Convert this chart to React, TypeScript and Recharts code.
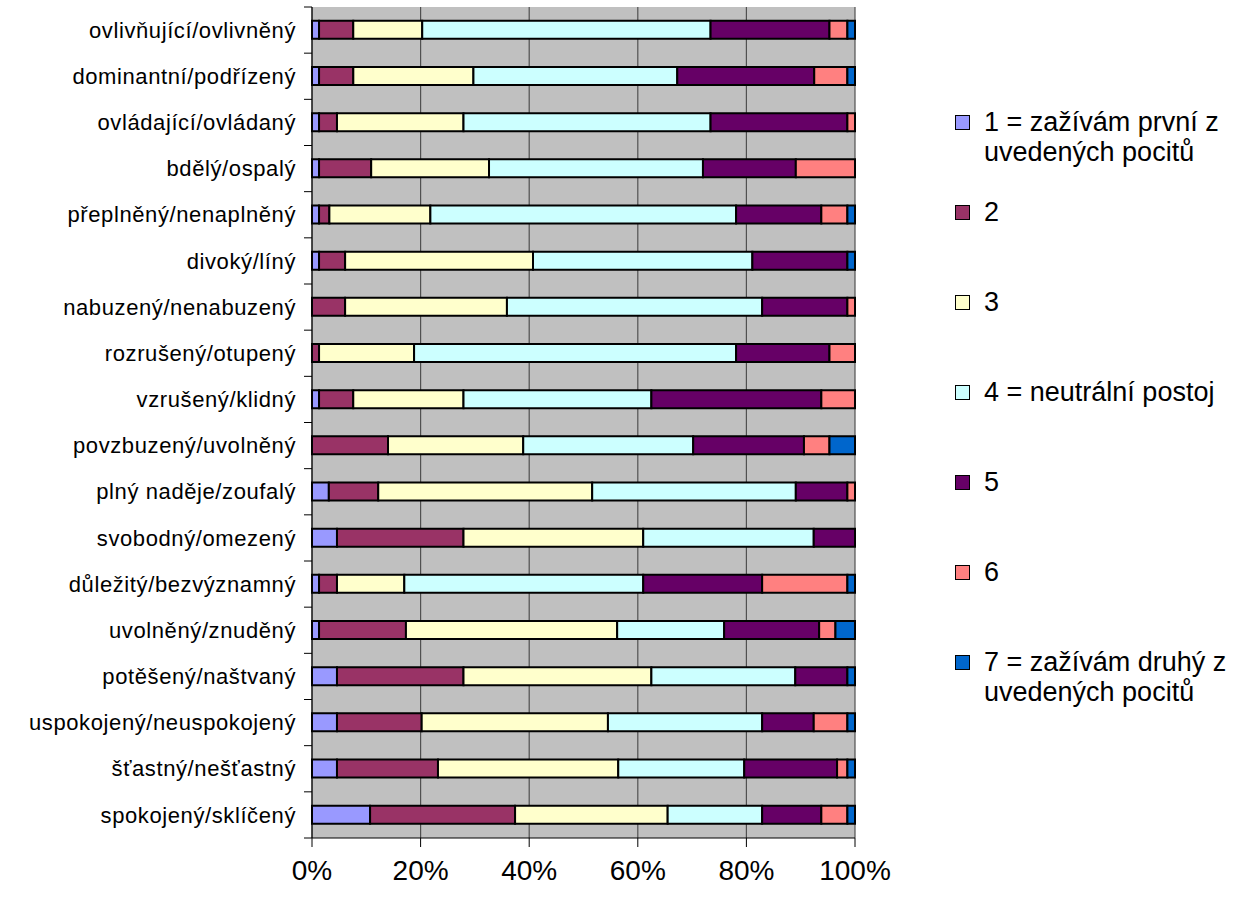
import React from 'react';
import { BarChart, Bar, XAxis, YAxis, CartesianGrid } from 'recharts';

const categories = [
  'ovlivňující/ovlivněný',
  'dominantní/podřízený',
  'ovládající/ovládaný',
  'bdělý/ospalý',
  'přeplněný/nenaplněný',
  'divoký/líný',
  'nabuzený/nenabuzený',
  'rozrušený/otupený',
  'vzrušený/klidný',
  'povzbuzený/uvolněný',
  'plný naděje/zoufalý',
  'svobodný/omezený',
  'důležitý/bezvýznamný',
  'uvolněný/znuděný',
  'potěšený/naštvaný',
  'uspokojený/neuspokojený',
  'šťastný/nešťastný',
  'spokojený/sklíčený',
];

const s1 = [1.3, 1.3, 1.3, 1.3, 1.3, 1.3, 0, 0, 1.3, 0, 3.1, 4.6, 1.3, 1.3, 4.6, 4.6, 4.6, 10.7];
const s2 = [6.3, 6.3, 3.3, 9.6, 1.9, 4.8, 6.1, 1.3, 6.3, 14.0, 9.1, 23.3, 3.3, 16.0, 23.3, 15.6, 18.6, 26.7];
const s3 = [12.7, 22.1, 23.3, 21.7, 18.6, 34.6, 29.8, 17.5, 20.3, 24.9, 39.4, 33.1, 12.4, 38.9, 34.6, 34.3, 33.2, 28.1];
const s4 = [53.1, 37.5, 45.5, 39.4, 56.3, 40.4, 47.0, 59.3, 34.6, 31.3, 37.5, 31.4, 44.0, 19.7, 26.5, 28.4, 23.2, 17.4];
const s5 = [21.9, 25.2, 25.2, 17.1, 15.7, 17.5, 15.7, 17.2, 31.3, 20.4, 9.5, 7.6, 21.9, 17.5, 9.6, 9.5, 17.1, 10.9];
const s6 = [3.3, 6.1, 1.4, 10.9, 4.8, 0, 1.4, 4.7, 6.2, 4.7, 1.4, 0, 15.7, 3.0, 0, 6.2, 1.9, 4.8];
const s7 = [1.4, 1.4, 0, 0, 1.4, 1.4, 0, 0, 0, 4.7, 0, 0, 1.4, 3.6, 1.4, 1.4, 1.4, 1.4];

const seriesValues = [s1, s2, s3, s4, s5, s6, s7];
const seriesKeys = ['v1', 'v2', 'v3', 'v4', 'v5', 'v6', 'v7'];
const seriesColors = ['#9999FF', '#993366', '#FFFFCC', '#CCFFFF', '#660066', '#FF8080', '#0066CC'];
const seriesLabels = [
  ['1 = zažívám první z', 'uvedených pocitů'],
  ['2'],
  ['3'],
  ['4 = neutrální postoj'],
  ['5'],
  ['6'],
  ['7 = zažívám druhý z', 'uvedených pocitů'],
];
const xTicks = [0, 0.2, 0.4, 0.6, 0.8, 1];

const data = categories.map((name, i) => {
  const row: Record<string, any> = { name };
  seriesKeys.forEach((k, j) => {
    row[k] = seriesValues[j][i];
  });
  return row;
});

const FONT = '"Liberation Sans", Arial, sans-serif';
const W = 1252;
const H = 897;
const PLOT_LEFT = 312;
const PLOT_RIGHT = 855;
const PLOT_TOP = 7;
const PLOT_BOTTOM = 838;
const HALF_BAND = (PLOT_BOTTOM - PLOT_TOP) / categories.length / 2;

const YTick = (props: any) => {
  const { x, y, payload, index } = props;
  return (
    <g>
      <line x1={x - 8} x2={x} y1={y - HALF_BAND} y2={y - HALF_BAND} stroke="#000" strokeWidth={1} />
      {index === categories.length - 1 && (
        <line x1={x - 8} x2={x} y1={y + HALF_BAND} y2={y + HALF_BAND} stroke="#000" strokeWidth={1} />
      )}
      <text
        x={x - 16}
        y={y}
        dy="0.35em"
        textAnchor="end"
        fontSize={22}
        letterSpacing={0.6}
        fontFamily={FONT}
        fill="#000"
      >
        {payload.value}
      </text>
    </g>
  );
};

export default function App() {
  return (
    <div style={{ position: 'absolute', left: 0, top: 0, width: W, height: H, background: '#fff' }}>
      <BarChart
        width={W}
        height={H}
        data={data}
        layout="vertical"
        stackOffset="expand"
        barCategoryGap="30%"
        margin={{ top: PLOT_TOP, right: W - PLOT_RIGHT, bottom: 0, left: 0 }}
      >
        <CartesianGrid
          horizontal={false}
          vertical={true}
          stroke="#505050"
          strokeWidth={1.2}
          fill="#C0C0C0"
          fillOpacity={1}
        />
        <XAxis
          type="number"
          domain={[0, 1]}
          ticks={xTicks}
          tickFormatter={(v: number) => `${Math.round(v * 100)}%`}
          height={H - PLOT_BOTTOM}
          tickSize={9}
          tickMargin={13}
          axisLine={{ stroke: '#000', strokeWidth: 1 }}
          tickLine={{ stroke: '#000', strokeWidth: 1 }}
          tick={{ fontSize: 28, fontFamily: FONT, fill: '#000' }}
          interval={0}
        />
        <YAxis
          type="category"
          dataKey="name"
          width={PLOT_LEFT}
          tickSize={0}
          tickMargin={0}
          tickLine={false}
          axisLine={{ stroke: '#000', strokeWidth: 1 }}
          tick={<YTick />}
          interval={0}
        />
        {seriesKeys.map((k, j) => (
          <Bar
            key={k}
            dataKey={k}
            stackId="a"
            fill={seriesColors[j]}
            stroke="#000"
            strokeWidth={2}
            isAnimationActive={false}
          />
        ))}
      </BarChart>
      <div style={{ position: 'absolute', left: 955, top: 107, fontFamily: FONT, fontSize: 27, color: '#000' }}>
        {seriesLabels.map((lines, j) => (
          <div key={j} style={{ position: 'relative', height: 90, lineHeight: '30px' }}>
            <div
              style={{
                position: 'absolute',
                left: 0,
                top: 8,
                width: 13,
                height: 13,
                background: seriesColors[j],
                border: '1px solid #000',
              }}
            />
            <div style={{ position: 'absolute', left: 29, top: 0, whiteSpace: 'nowrap' }}>
              {lines.map((l, m) => (
                <div key={m}>{l}</div>
              ))}
            </div>
          </div>
        ))}
      </div>
    </div>
  );
}
